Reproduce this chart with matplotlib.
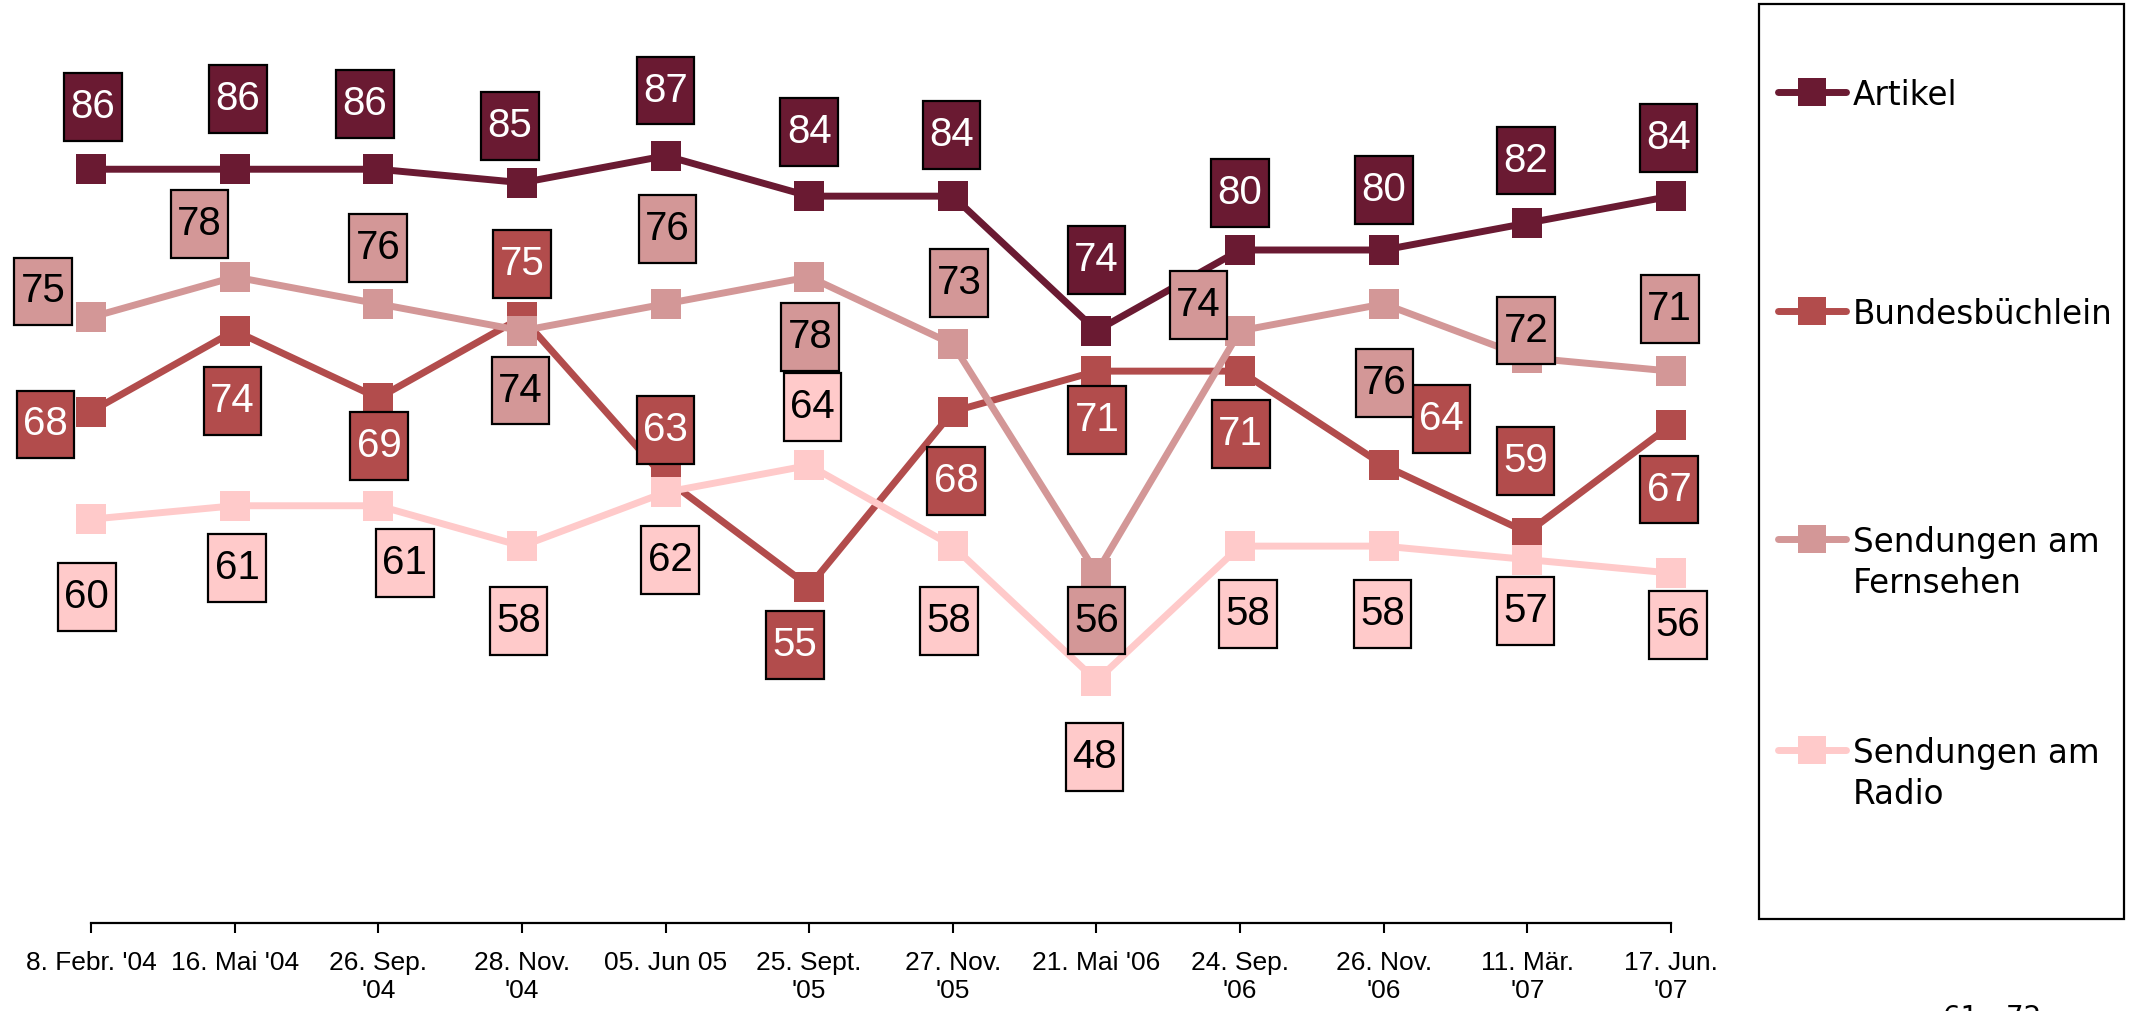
"""
Verlauf: Nutzung Artikel / Bundesbüchlein / Sendungen (Fernsehen, Radio), 2004-2007
"""
import matplotlib
matplotlib.use('Agg')
import matplotlib.pyplot as plt
from matplotlib.patches import Rectangle
from matplotlib.lines import Line2D
from matplotlib.path import Path

W, H, DPI = 2129, 1011, 100

# ── Daten ─────────────────────────────────────────────────────────────────────
termine = ["8. Febr. '04", "16. Mai '04", "26. Sep.\n'04", "28. Nov.\n'04",
           "05. Jun 05", "25. Sept.\n'05", "27. Nov.\n'05", "21. Mai '06",
           "24. Sep.\n'06", "26. Nov.\n'06", "11. Mär.\n'07", "17. Jun.\n'07"]

artikel   = [86, 86, 86, 85, 87, 84, 84, 74, 80, 80, 82, 84]
bundes    = [68, 74, 69, 75, 63, 55, 68, 71, 71, 64, 59, 67]
fernsehen = [75, 78, 76, 74, 76, 78, 73, 56, 74, 76, 72, 71]
radio     = [60, 61, 61, 58, 62, 64, 58, 48, 58, 58, 57, 56]

# Lage der Beschriftungen relativ zum Punkt (px, y nach unten)
off_artikel = [(1.5, -46), (2.5, -52), (-10, -48), (-9, -42), (0, -48), (0, -47),
               (-1, -45), (0, -52), (0, -42), (0, -44), (-1, -46), (-2, -43)]
off_bundes = [(-33.5, 9.5), (-1.5, 52), (0.5, 35), (0, -39), (0, -36), (-10.5, 43),
              (2.5, 51), (0.5, 36), (0.5, 46), (42.5, -34), (-1.5, -53), (-1.5, 47.5)]
off_fern = [(-35.5, -19), (-26, -39), (0, -41), (-1, 44), (1.5, -55), (0.5, 44),
            (4.5, -45), (0, 35), (-30.5, -19), (0.5, 58), (-1, -20), (-1, -46)]
off_radio = [(-3, 57), (2, 46), (19.5, 42), (-2.5, 55), (3.5, 50), (2.5, -43),
             (-3, 55), (-1.5, 56), (6, 50), (-1, 50), (-1.5, 38), (5, 38.5)]

serien = [
    ("Artikel",                 artikel,   "#6a1a32", "white", off_artikel),
    ("Bundesbüchlein",          bundes,    "#b24c4c", "white", off_bundes),
    ("Sendungen am\nFernsehen", fernsehen, "#d39797", "black", off_fern),
    ("Sendungen am\nRadio",     radio,     "#ffcaca", "black", off_radio),
]

NARROW = ['Liberation Sans', 'DejaVu Sans']


def hochkant(x0, y0, width, height, mutation_size):
    # Rechteck, oben/unten mehr Rand als seitlich
    px = 0.16 * mutation_size
    py = 0.37 * mutation_size
    return Path([(x0 - px, y0 - py), (x0 + width + px, y0 - py),
                 (x0 + width + px, y0 + height + py), (x0 - px, y0 + height + py),
                 (x0 - px, y0 - py)], closed=True)


fig = plt.figure(figsize=(W / DPI, H / DPI), dpi=DPI)
fig.patch.set_facecolor("white")

# Achse: links 91 px, rechts 1671 px, x-Achse bei 923 px
ax = fig.add_axes([91 / W, 1 - 923 / H, (1671 - 91) / W, 923 / H])
ax.set_xlim(0, 11)
ax.set_ylim(30, 30 + 923 / 13.46)

xs = list(range(len(termine)))
k = 0.978  # px (verkleinert) -> Punkte

for i, (name, vals, col, tcol, offs) in enumerate(serien):
    ax.plot(xs, vals, '-', color=col, lw=5, marker='s', markersize=21,
            markeredgewidth=0, zorder=2 + i, clip_on=False)

for name, vals, col, tcol, offs in serien:
    for x, v, (dx, dy) in zip(xs, vals, offs):
        ax.annotate(f"{v}", (x, v), xytext=(dx * k, -dy * k),
                    textcoords='offset points', ha='center', va='center',
                    fontsize=29, color=tcol, family=NARROW,
                    bbox=dict(boxstyle=hochkant, fc=col, ec='black', lw=1.6),
                    zorder=10, annotation_clip=False)

for s in ['left', 'right', 'top']:
    ax.spines[s].set_visible(False)
ax.spines['bottom'].set_linewidth(1.6)
ax.set_yticks([])
ax.set_xticks(xs)
ax.set_xticklabels(termine, fontsize=19, family=NARROW, linespacing=1.2)
ax.tick_params(axis='x', direction='out', length=7, width=1.5, pad=13)

# ── Legende (manuell) ─────────────────────────────────────────────────────────
def fx(px):
    return px / W

def fy(py):
    return 1 - py / H

fig.add_artist(Rectangle((fx(1759), fy(919)), fx(2124) - fx(1759), fy(4) - fy(919),
                         transform=fig.transFigure, fill=False, ec='black', lw=1.6))

leg_y = [92, 311, 539, 750]
for (name, vals, col, tcol, offs), hy in zip(serien, leg_y):
    fig.add_artist(Line2D([fx(1778), fx(1846)], [fy(hy), fy(hy)],
                          transform=fig.transFigure, color=col, lw=5,
                          solid_capstyle='round'))
    fig.add_artist(Line2D([fx(1812)], [fy(hy)], transform=fig.transFigure,
                          marker='s', markersize=20, color=col, markeredgewidth=0))
    fig.text(fx(1853), fy(hy - 13), name, fontsize=23.5, va='top', ha='left',
             linespacing=1.3)

fig.text(fx(1992), fy(1004), "61 - 72", fontsize=20, ha='center', va='top')

fig.savefig("out.png", dpi=DPI)
